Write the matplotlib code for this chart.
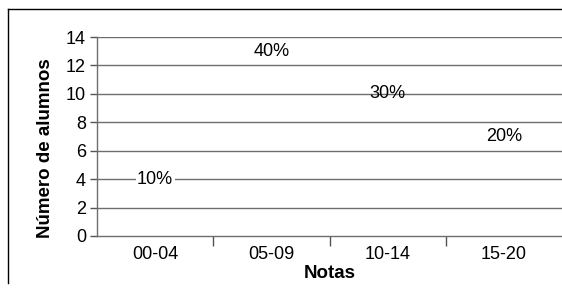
import matplotlib
matplotlib.use('Agg')
import matplotlib.pyplot as plt
from matplotlib.lines import Line2D
import numpy as np

plt.rcParams['font.family'] = ['Liberation Sans', 'DejaVu Sans']

categorias = ['00-04', '05-09', '10-14', '15-20']
# altura (eje y) donde aparece cada etiqueta en la figura
posiciones = [4, 13, 10, 7]
etiquetas = ['10%', '40%', '30%', '20%']

fig = plt.figure(figsize=(5.62, 2.90), dpi=100)
ax = fig.add_axes([97/562, 1-236/290, 1-97/562, (236-37)/290])

x = np.arange(len(categorias))
ax.set_xlim(-0.5, len(categorias)-0.5)
ax.set_ylim(0, 14)
ax.set_yticks(range(0, 15, 2))
ax.set_xticks(x)
ax.set_xticklabels(categorias, fontsize=13)
ax.set_xticks(x[:-1]+0.5, minor=True)
ax.tick_params(axis='x', which='major', length=0, pad=7)
ax.tick_params(axis='x', which='minor', length=7, width=1, color='#555555', direction='out')
ax.tick_params(axis='y', length=5, width=1, color='#555555', labelsize=13, pad=3)

for v in range(2, 15, 2):
    ax.axhline(v, color='#6e6e6e', lw=1, zorder=1)

for s in ['top', 'right']:
    ax.spines[s].set_visible(False)
for s in ['left', 'bottom']:
    ax.spines[s].set_color('#6e6e6e')
    ax.spines[s].set_linewidth(1)

for i in range(len(categorias)):
    fondo = dict(facecolor='white', edgecolor='none', pad=1) if i == 0 else None
    ax.text(x[i], posiciones[i], etiquetas[i], ha='center', va='center',
            fontsize=13, zorder=3, bbox=fondo)

ax.set_ylabel('Número de alumnos', fontsize=13.5, fontweight='bold')
ax.yaxis.set_label_coords(-0.093, 0.442)
ax.set_xlabel('Notas', fontsize=13.5, fontweight='bold', labelpad=2)

# marco del gráfico
fig.add_artist(Line2D([8/562, 8/562], [1-283/290, 1-9/290], color='black', lw=1))
fig.add_artist(Line2D([8/562, 1], [1-9/290, 1-9/290], color='black', lw=1))

fig.savefig('out.png', dpi=100)
